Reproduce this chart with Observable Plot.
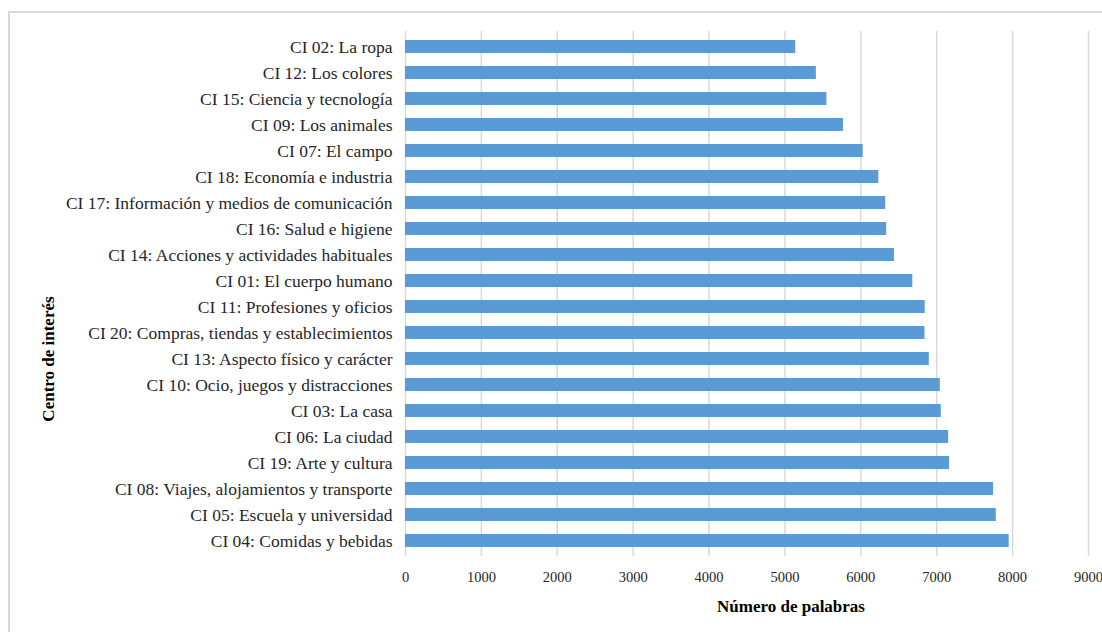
<!DOCTYPE html>
<html>
<head>
<meta charset="utf-8">
<script src="https://cdn.jsdelivr.net/npm/d3@7"></script>
<script src="https://cdn.jsdelivr.net/npm/@observablehq/plot@0.6"></script>
<style>
  html, body { margin: 0; padding: 0; background: #fff; }
  #wrap { position: relative; width: 1102px; height: 632px; overflow: hidden; }
  #border { position: absolute; left: 8px; top: 11px; width: 1200px; height: 700px;
            border-left: 2px solid #d9d9d9; border-top: 2px solid #d9d9d9; pointer-events: none; }
  #chart { position: absolute; left: 0; top: 0; }
  #chart svg text { font-family: "Liberation Serif", "Times New Roman", serif; }
</style>
</head>
<body>
<div id="wrap"><div id="border"></div><div id="chart"></div></div>
<script>
const categories = [
  "CI 02: La ropa",
  "CI 12: Los colores",
  "CI 15: Ciencia y tecnología",
  "CI 09: Los animales",
  "CI 07: El campo",
  "CI 18: Economía e industria",
  "CI 17: Información y medios de comunicación",
  "CI 16: Salud e higiene",
  "CI 14: Acciones y actividades habituales",
  "CI 01: El cuerpo humano",
  "CI 11: Profesiones y oficios",
  "CI 20: Compras, tiendas y establecimientos",
  "CI 13: Aspecto físico y carácter",
  "CI 10: Ocio, juegos y distracciones",
  "CI 03: La casa",
  "CI 06: La ciudad",
  "CI 19: Arte y cultura",
  "CI 08: Viajes, alojamientos y transporte",
  "CI 05: Escuela y universidad",
  "CI 04: Comidas y bebidas"
];
const values = [5142, 5414, 5553, 5771, 6031, 6237, 6328, 6340, 6443, 6685,
                6848, 6845, 6902, 7047, 7060, 7157, 7169, 7749, 7785, 7955];
const xTicks = [0, 1000, 2000, 3000, 4000, 5000, 6000, 7000, 8000, 9000];
const xTitle = "Número de palabras";
const yTitle = "Centro de interés";

const data = categories.map((c, i) => ({category: c, value: values[i]}));
const serif = "Liberation Serif";

const chart = Plot.plot({
  width: 1102,
  height: 632,
  marginLeft: 405,
  marginRight: 14,
  marginTop: 31,
  marginBottom: 76,
  style: {fontFamily: serif, color: "#262626", background: "transparent", overflow: "visible"},
  x: {domain: [0, 9000], ticks: xTicks, label: null},
  y: {domain: categories, paddingInner: 0.49, paddingOuter: 0.245, label: null},
  marks: [
    Plot.gridX(xTicks, {stroke: "#d9d9d9", strokeOpacity: 1, strokeWidth: 1.5}),
    Plot.barX(data, {x: "value", y: "category", fill: "#5B9BD5"}),
    Plot.axisX({ticks: xTicks, tickSize: 0, tickPadding: 15, fontSize: 14.5, fontFamily: serif, label: null, tickFormat: d => String(d)}),
    Plot.axisY({tickSize: 0, tickPadding: 13, fontSize: 17.5, fontFamily: serif, label: null}),
    Plot.text([xTitle], {frameAnchor: "bottom", textAnchor: "middle", dx: 44, dy: 55, fontWeight: "bold", fontSize: 17, fontFamily: serif, fill: "#000"}),
    Plot.text([yTitle], {frameAnchor: "left", textAnchor: "middle", dx: -357, dy: 65, rotate: -90, fontWeight: "bold", fontSize: 17, fontFamily: serif, fill: "#000"})
  ]
});
document.getElementById("chart").appendChild(chart);
</script>
</body>
</html>
